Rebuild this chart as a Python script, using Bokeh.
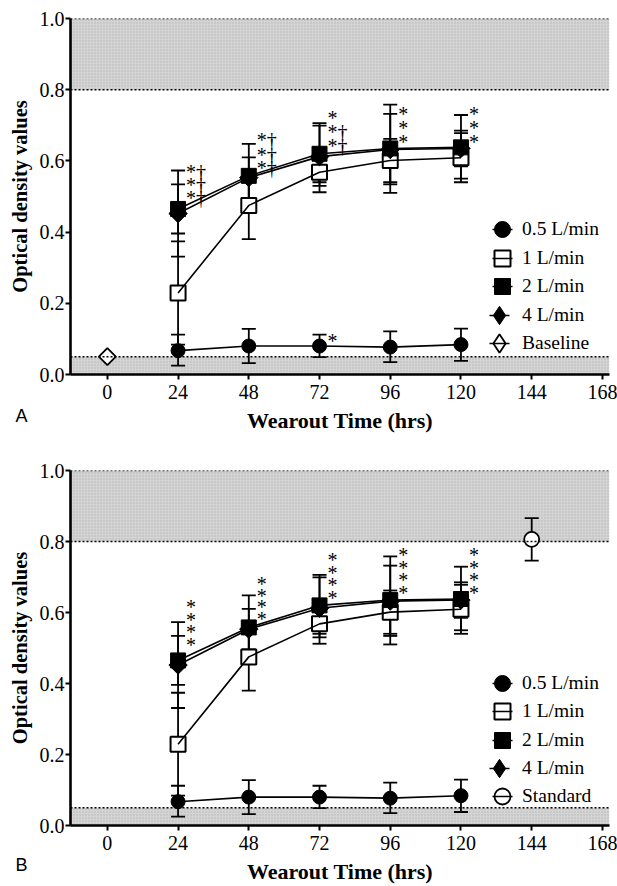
import math
from bokeh.plotting import figure
from bokeh.models import (ColumnDataSource, Whisker, TeeHead, BoxAnnotation, Span, Title,
                          FixedTicker, Legend, LegendItem, NumeralTickFormatter, Range1d)
from bokeh.layouts import column
from bokeh.embed import file_html
from bokeh.resources import INLINE
from bokeh.core.properties import value

# ---------------- data ----------------
hours = [24, 48, 72, 96, 120]
x_ticks = [0, 24, 48, 72, 96, 120, 144, 168]
y_ticks = [0.0, 0.2, 0.4, 0.6, 0.8, 1.0]

s05_mean = [0.067, 0.080, 0.080, 0.077, 0.084]
s05_lo = [0.025, 0.032, 0.049, 0.035, 0.038]
s05_hi = [0.112, 0.128, 0.112, 0.121, 0.129]

s1_mean = [0.229, 0.475, 0.568, 0.601, 0.609]
s1_lo = [0.084, 0.380, 0.512, 0.540, 0.540]
s1_hi = [0.374, 0.570, 0.624, 0.662, 0.678]

s2_mean = [0.465, 0.558, 0.620, 0.635, 0.638]
s2_lo = [0.396, 0.470, 0.540, 0.510, 0.550]
s2_hi = [0.534, 0.648, 0.706, 0.758, 0.729]

s4_mean = [0.452, 0.553, 0.612, 0.632, 0.635]
s4_lo = [0.331, 0.496, 0.530, 0.534, 0.585]
s4_hi = [0.573, 0.610, 0.699, 0.732, 0.685]

baseline_x = [0]
baseline_y = [0.05]

standard_x = [144]
standard_y = [0.806]
standard_lo = [0.746]
standard_hi = [0.866]

band_low = [0.0, 0.05]
band_high = [0.8, 1.0]

series_names = ["0.5 L/min", "1 L/min", "2 L/min", "4 L/min"]

sigA_x = [24, 24, 24, 48, 48, 48, 72, 72, 72, 96, 96, 96, 120, 120, 120, 72]
sigA_y = [0.587, 0.550, 0.512, 0.676, 0.634, 0.596, 0.737, 0.699, 0.659,
          0.749, 0.709, 0.671, 0.749, 0.709, 0.671, 0.110]
sigA_t = ["*†", "*†", "*†", "*†", "*†", "*†", "*", "*†", "*†",
          "*", "*", "*", "*", "*", "*", "*"]

sigB_x = [24] * 4 + [48] * 4 + [72] * 4 + [96] * 4 + [120] * 4
sigB_y = [0.633, 0.596, 0.561, 0.526,
          0.696, 0.663, 0.631, 0.598,
          0.766, 0.729, 0.693, 0.659,
          0.780, 0.743, 0.708, 0.673,
          0.780, 0.743, 0.708, 0.673]
sigB_t = ["*"] * 20

SERIF = "Liberation Serif"


def panel(height, top_border, bottom_border, extra, sig, letter, legend_ys,
          tick_standoff, label_standoff, letter_standoff):
    p = figure(width=617, height=height, output_backend="svg", toolbar_location=None,
               x_range=Range1d(-12.5, 170.4), y_range=Range1d(0, 1.0),
               min_border_left=70, min_border_right=8,
               min_border_top=top_border, min_border_bottom=bottom_border)
    p.outline_line_color = None
    p.grid.visible = False
    p.background_fill_color = "white"
    # off-screen range used only for the legend swatches
    p.extra_y_ranges = {"legend": Range1d(1000, 1001)}

    # shaded reference bands
    for lo_hi in (band_low, band_high):
        p.add_layout(BoxAnnotation(bottom=lo_hi[0], top=lo_hi[1], fill_color="#d4d4d4",
                                   fill_alpha=1.0, line_color=None, level="image",
                                   hatch_pattern="dot", hatch_color="#ababab",
                                   hatch_scale=3, hatch_alpha=0.7))
    for loc in (band_low[1], band_high[0], band_high[1]):
        p.add_layout(Span(location=loc, dimension="width", line_color="black",
                          line_width=1.6, line_dash="2 2"))

    # error bars
    def whisk(xs, lo, hi):
        src = ColumnDataSource(dict(x=xs, lo=lo, hi=hi))
        w = Whisker(source=src, base="x", lower="lo", upper="hi", dimension="height",
                    line_color="black", line_width=1.8,
                    upper_head=TeeHead(size=14, line_width=1.8, line_color="black"),
                    lower_head=TeeHead(size=14, line_width=1.8, line_color="black"))
        p.add_layout(w)

    whisk(hours, s05_lo, s05_hi)
    whisk(hours, s1_lo, s1_hi)
    whisk(hours, s2_lo, s2_hi)
    whisk(hours, s4_lo, s4_hi)

    r05m = p.scatter(hours, s05_mean, marker="circle", size=14, fill_color="black", line_color="black")
    r1m = p.scatter(hours, s1_mean, marker="square", size=15, fill_color="white",
                    line_color="black", line_width=2)
    r2m = p.scatter(hours, s2_mean, marker="square", size=15, fill_color="black", line_color="black")
    p.scatter(hours, s4_mean, marker="square", angle=math.pi / 4, size=13,
              fill_color="black", line_color="black")
    for ys in (s05_mean, s1_mean, s2_mean, s4_mean):
        p.line(hours, ys, line_color="black", line_width=1.6)

    # legend swatches: short line stub through the symbol (drawn off-screen in the plot)
    def stub(xs, ys, dash="0 10 20 60"):
        return p.line(xs, ys, y_range_name="legend", line_color="black", line_width=1.6,
                      line_dash=dash, line_cap="butt")
    r4leg = p.scatter(hours, s4_mean, y_range_name="legend", marker="diamond", size=15,
                      fill_color="black", line_color="black")

    # (item, glyph box size, dx, dy)
    entries = [(LegendItem(label=series_names[0], renderers=[r05m, stub(hours, s05_mean)]), 40, 0, 0),
               (LegendItem(label=series_names[1], renderers=[r1m, stub(hours, s1_mean)]), 40, 0, 0),
               (LegendItem(label=series_names[2], renderers=[r2m, stub(hours, s2_mean)]), 40, 0, 0),
               (LegendItem(label=series_names[3],
                           renderers=[r4leg, stub(hours, s4_mean, "0 13 20 60")]), 46, -6, -3)]

    if extra == "Baseline":
        p.scatter(baseline_x, baseline_y, marker="square", angle=math.pi / 4, size=12,
                  fill_color="white", line_color="black", line_width=1.8)
        rbleg = p.scatter(baseline_x, baseline_y, y_range_name="legend", marker="diamond",
                          size=15, fill_color="white", line_color="black", line_width=1.8)
        entries.append((LegendItem(label="Baseline",
                                   renderers=[rbleg, stub(baseline_x, baseline_y, "0 13 20 60")]),
                        46, -6, -3))
    else:
        whisk(standard_x, standard_lo, standard_hi)
        rs = p.scatter(standard_x, standard_y, marker="circle", size=15,
                       fill_color="white", line_color="black", line_width=1.8)
        entries.append((LegendItem(label="Standard",
                                   renderers=[rs, stub(standard_x, standard_y)]), 40, 0, 0))

    # significance marks
    ssrc = ColumnDataSource(dict(x=sig[0], y=sig[1], t=sig[2]))
    p.text(x="x", y="y", text="t", source=ssrc, text_font=value(SERIF),
           text_font_size="20px", text_color="black", text_align="left",
           text_baseline="middle", x_offset=8, y_offset=6)

    # one legend box per entry so the rows can sit closer than the swatch size
    for (item, gsz, dx, dy), ly in zip(entries, legend_ys):
        p.add_layout(Legend(items=[item], location=(412 + dx, ly + dy), label_text_font=SERIF,
                            label_text_font_size="19.5px", label_text_color="black",
                            glyph_width=gsz, glyph_height=gsz, label_height=24,
                            label_standoff=0, spacing=0, padding=0, margin=0,
                            border_line_color=None, background_fill_alpha=0))

    # axes
    p.xaxis.ticker = FixedTicker(ticks=x_ticks)
    p.yaxis.ticker = FixedTicker(ticks=y_ticks)
    p.yaxis.formatter = NumeralTickFormatter(format="0.0")
    for ax in (p.xaxis[0], p.yaxis[0]):
        ax.axis_line_width = 2.6
        ax.axis_line_color = "black"
        ax.major_tick_line_width = 2
        ax.major_tick_line_color = "black"
        ax.major_tick_out = 5
        ax.major_tick_in = 0
        ax.minor_tick_line_color = None
        ax.major_label_text_font = SERIF
        ax.major_label_text_font_size = "20px"
        ax.major_label_text_color = "black"
        ax.axis_label_text_font = SERIF
        ax.axis_label_text_font_style = "bold"
        ax.axis_label_text_color = "black"
    p.xaxis.axis_label = "Wearout Time (hrs)"
    p.xaxis.axis_label_text_font_size = "22px"
    p.xaxis.major_label_standoff = tick_standoff
    p.xaxis.axis_label_standoff = label_standoff
    p.yaxis.axis_label = "Optical density values"
    p.yaxis.axis_label_text_font_size = "20.5px"
    p.yaxis.major_label_standoff = 1
    p.yaxis.axis_label_standoff = 6

    p.add_layout(Title(text=letter, align="left", vertical_align="top", offset=-55,
                       standoff=letter_standoff, text_font="Liberation Sans",
                       text_font_style="normal", text_font_size="18px",
                       text_color="black"), "below")
    return p


legendA_ys = [125, 96.5, 68, 39.5, 11]
legendB_ys = [122, 93.7, 65.4, 37.1, 9]

pA = panel(450, 18, 76, "Baseline", (sigA_x, sigA_y, sigA_t), "A", legendA_ys, 5, 6, -59)
pB = panel(436, 20, 60, "Standard", (sigB_x, sigB_y, sigB_t), "B", legendB_ys, 5, 6, -63)

layout = column(pA, pB, spacing=0)
open("out.html", "w").write(file_html(layout, INLINE))
